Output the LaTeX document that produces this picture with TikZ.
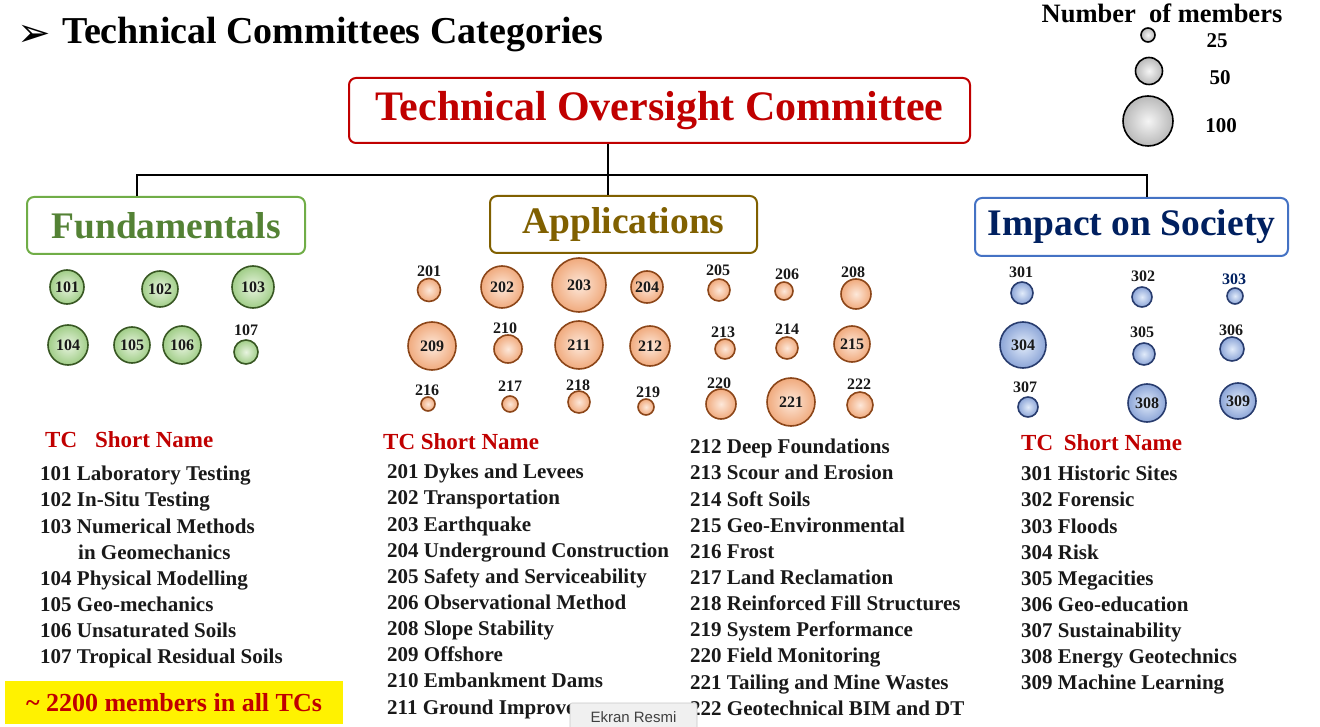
\documentclass[tikz,border=0pt]{standalone}
\usepackage{fontspec}
\setmainfont{Liberation Serif}
\setsansfont{Liberation Sans}
\newfontfamily\simbolos{DejaVu Sans}

\definecolor{vermelho}{RGB}{192,0,0}
\definecolor{verdeborda}{RGB}{112,173,71}
\definecolor{verdetexto}{RGB}{84,130,53}
\definecolor{verdeescuro}{RGB}{56,87,35}
\definecolor{verdeclaro}{RGB}{232,244,224}
\definecolor{verdemedio}{RGB}{160,205,135}
\definecolor{ouro}{RGB}{128,96,0}
\definecolor{marrom}{RGB}{140,70,25}
\definecolor{laranjaclaro}{RGB}{253,232,218}
\definecolor{laranjamedio}{RGB}{240,170,125}
\definecolor{azulborda}{RGB}{68,114,196}
\definecolor{azultexto}{RGB}{0,32,96}
\definecolor{azulescuro}{RGB}{40,60,110}
\definecolor{azulclaro}{RGB}{225,235,250}
\definecolor{azulmedio}{RGB}{140,165,215}
\definecolor{quasepreto}{RGB}{25,25,25}

\tikzset{%
    caixa/.style    = {rectangle, rounded corners=7pt, line width=2pt, fill=white,
                       text centered, inner sep=0pt,
                       font=\bfseries\fontsize{37.5}{40}\selectfont},
    conector/.style = {line width=2.4pt, black},
    bolha/.style    = {circle, inner sep=0pt, line width=1.6pt, text=quasepreto,
                       font=\bfseries\fontsize{16}{16}\selectfont},
    verde/.style    = {bolha, draw=verdeescuro, inner color=verdeclaro, outer color=verdemedio},
    laranja/.style  = {bolha, draw=marrom, inner color=laranjaclaro, outer color=laranjamedio},
    azul/.style     = {bolha, draw=azulescuro, inner color=azulclaro, outer color=azulmedio},
    cinza/.style    = {bolha, draw=black, inner color=gray!8, outer color=gray!55},
    numero/.style   = {inner sep=0pt, text=quasepreto, font=\bfseries\fontsize{16}{16}\selectfont},
    cabeca/.style   = {anchor=west, inner sep=0pt, text=vermelho,
                       font=\bfseries\fontsize{23}{26}\selectfont},
    lista/.style    = {anchor=north west, inner sep=0pt, align=left, text=quasepreto,
                       font=\bfseries\fontsize{21}{26.15}\selectfont},
}

\begin{document}
\begin{tikzpicture}[x=1pt, y=-1pt]
    \useasboundingbox (0,0) rectangle (1320,727);

    % titulo e legenda
    \node (marca)  [anchor=base west, inner sep=0pt, font=\simbolos\fontsize{40}{40}\selectfont] at (17,47) {➢};
    \node (titulo) [anchor=base west, inner sep=0pt, font=\bfseries\fontsize{38}{40}\selectfont] at (62,44) {Technical Committees Categories};
    \node (legenda) [anchor=base, inner sep=0pt, font=\bfseries\fontsize{26.5}{27}\selectfont] at (1162,23) {Number\ \ of members};
    \node (l25)  [cinza, minimum size=14pt] at (1148,35) {};
    \node (l50)  [cinza, minimum size=27pt] at (1149,71) {};
    \node (l100) [cinza, minimum size=50pt] at (1148,121) {};
    \node (t25)  [anchor=base, inner sep=0pt, font=\bfseries\fontsize{21}{21}\selectfont] at (1217,48) {25};
    \node (t50)  [anchor=base, inner sep=0pt, font=\bfseries\fontsize{21}{21}\selectfont] at (1220,85) {50};
    \node (t100) [anchor=base, inner sep=0pt, font=\bfseries\fontsize{21}{21}\selectfont] at (1221,133) {100};

    % caixas
    \node (toc)  [caixa, draw=vermelho, text=vermelho, minimum width=621pt, minimum height=65pt,
                  font=\bfseries\fontsize{42}{44}\selectfont] at (659.5,110.5) {Technical Oversight Committee};
    \node (fund) [caixa, draw=verdeborda, text=verdetexto, minimum width=278pt, minimum height=57pt] at (166,225.5) {Fundamentals};
    \node (app)  [caixa, draw=ouro, text=ouro, minimum width=267pt, minimum height=57pt] at (623.5,224.5) {Applications};
    \node (imp)  [caixa, draw=azulborda, text=azultexto, minimum width=313pt, minimum height=58pt] at (1131.5,227) {Impact on Society};

    \coordinate (barra) at (608,175);
    \coordinate (jf)    at (137,175);
    \coordinate (ji)    at (1147,175);
    \draw[conector] (toc.south -| barra) -- (app.north -| barra);
    \draw[conector] (fund.north -| jf) -- (jf) -- (ji) -- (imp.north -| ji);

    % Fundamentals
    \node (c101) [verde, minimum size=34pt] at (67,287)  {101};
    \node (c102) [verde, minimum size=36pt] at (160,289) {102};
    \node (c103) [verde, minimum size=42pt] at (253,287) {103};
    \node (c104) [verde, minimum size=40pt] at (68,345)  {104};
    \node (c105) [verde, minimum size=36pt] at (132,345) {105};
    \node (c106) [verde, minimum size=38pt] at (182,345) {106};
    \node (c107) [verde, minimum size=24pt] at (246,352) {};
    \node (n107) [numero] at (246,330) {107};

    % Applications
    \node (c201) [laranja, minimum size=23pt] at (429,290) {};
    \node (n201) [numero] at (429,271) {201};
    \node (c202) [laranja, minimum size=42pt] at (502,287) {202};
    \node (c203) [laranja, minimum size=54pt] at (579,285) {203};
    \node (c204) [laranja, minimum size=32pt] at (647,287) {204};
    \node (c205) [laranja, minimum size=22pt] at (719,290) {};
    \node (n205) [numero] at (718,270) {205};
    \node (c206) [laranja, minimum size=18pt] at (784,291) {};
    \node (n206) [numero] at (787,274) {206};
    \node (c208) [laranja, minimum size=30pt] at (856,294) {};
    \node (n208) [numero] at (853,272) {208};
    \node (c209) [laranja, minimum size=48pt] at (432,346) {209};
    \node (c210) [laranja, minimum size=28pt] at (508,349) {};
    \node (n210) [numero] at (505,328) {210};
    \node (c211) [laranja, minimum size=48pt] at (579,345) {211};
    \node (c212) [laranja, minimum size=40pt] at (650,346) {212};
    \node (c213) [laranja, minimum size=20pt] at (725,349) {};
    \node (n213) [numero] at (723,332) {213};
    \node (c214) [laranja, minimum size=22pt] at (787,348) {};
    \node (n214) [numero] at (787,329) {214};
    \node (c215) [laranja, minimum size=36pt] at (852,344) {215};
    \node (c216) [laranja, minimum size=14pt] at (428,404) {};
    \node (n216) [numero] at (427,390) {216};
    \node (c217) [laranja, minimum size=16pt] at (510,404) {};
    \node (n217) [numero] at (510,386) {217};
    \node (c218) [laranja, minimum size=22pt] at (579,402) {};
    \node (n218) [numero] at (578,385) {218};
    \node (c219) [laranja, minimum size=16pt] at (646,407) {};
    \node (n219) [numero] at (648,392) {219};
    \node (c220) [laranja, minimum size=30pt] at (721,404) {};
    \node (n220) [numero] at (719,383) {220};
    \node (c221) [laranja, minimum size=48pt] at (791,402) {221};
    \node (c222) [laranja, minimum size=26pt] at (860,405) {};
    \node (n222) [numero] at (859,384) {222};

    % Impact on Society
    \node (c301) [azul, minimum size=22pt] at (1022,293) {};
    \node (n301) [numero] at (1021,272) {301};
    \node (c302) [azul, minimum size=20pt] at (1142,297) {};
    \node (n302) [numero] at (1143,276) {302};
    \node (c303) [azul, minimum size=16pt] at (1235,296) {};
    \node (n303) [numero, text=azultexto] at (1234,279) {303};
    \node (c304) [azul, minimum size=46pt] at (1023,345) {304};
    \node (c305) [azul, minimum size=22pt] at (1144,354) {};
    \node (n305) [numero] at (1142,332) {305};
    \node (c306) [azul, minimum size=24pt] at (1232,349) {};
    \node (n306) [numero] at (1231,330) {306};
    \node (c307) [azul, minimum size=20pt] at (1028,407) {};
    \node (n307) [numero] at (1025,387) {307};
    \node (c308) [azul, minimum size=38pt] at (1147,403) {308};
    \node (c309) [azul, minimum size=36pt] at (1238,401) {309};

    % listas
    \node (hfund) [cabeca] at (45,440)   {TC\hspace*{18pt}Short Name};
    \node (happ)  [cabeca] at (383,442)  {TC Short Name};
    \node (himp)  [cabeca] at (1021,443) {TC\hspace*{5pt} Short Name};

    \node (lfund) [lista] at (40,466) {101 Laboratory Testing\\ 102 In-Situ Testing\\ 103 Numerical Methods\\
        \hspace*{38pt}in Geomechanics\\ 104 Physical Modelling\\ 105 Geo-mechanics\\ 106 Unsaturated Soils\\
        107 Tropical Residual Soils};
    \node (lapp1) [lista] at (387,464) {201 Dykes and Levees\\ 202 Transportation\\ 203 Earthquake\\
        204 Underground Construction\\ 205 Safety and Serviceability\\ 206 Observational Method\\
        208 Slope Stability\\ 209 Offshore\\ 210 Embankment Dams\\ 211 Ground Improve};
    \node (lapp2) [lista] at (690,439) {212 Deep Foundations\\ 213 Scour and Erosion\\ 214 Soft Soils\\
        215 Geo-Environmental\\ 216 Frost\\ 217 Land Reclamation\\ 218 Reinforced Fill Structures\\
        219 System Performance\\ 220 Field Monitoring\\ 221 Tailing and Mine Wastes\\
        222 Geotechnical BIM and DT};
    \node (limp)  [lista] at (1021,466) {301 Historic Sites\\ 302 Forensic\\ 303 Floods\\ 304 Risk\\
        305 Megacities\\ 306 Geo-education\\ 307 Sustainability\\ 308 Energy Geotechnics\\
        309 Machine Learning};

    \node (total) [fill=yellow, minimum width=338pt, minimum height=43pt, inner sep=0pt, text=vermelho,
                   font=\bfseries\fontsize{26}{28}\selectfont] at (174,702.5) {\textasciitilde\ 2200 members in all TCs};

    \node (dica) [fill=gray!12, draw=gray!45, line width=0.6pt, rounded corners=2pt, minimum width=127pt,
                  minimum height=28pt, inner sep=0pt, text=black!75, font=\sffamily\fontsize{15}{15}\selectfont]
                  at (633.5,717) {Ekran Resmi};
\end{tikzpicture}
\end{document}
